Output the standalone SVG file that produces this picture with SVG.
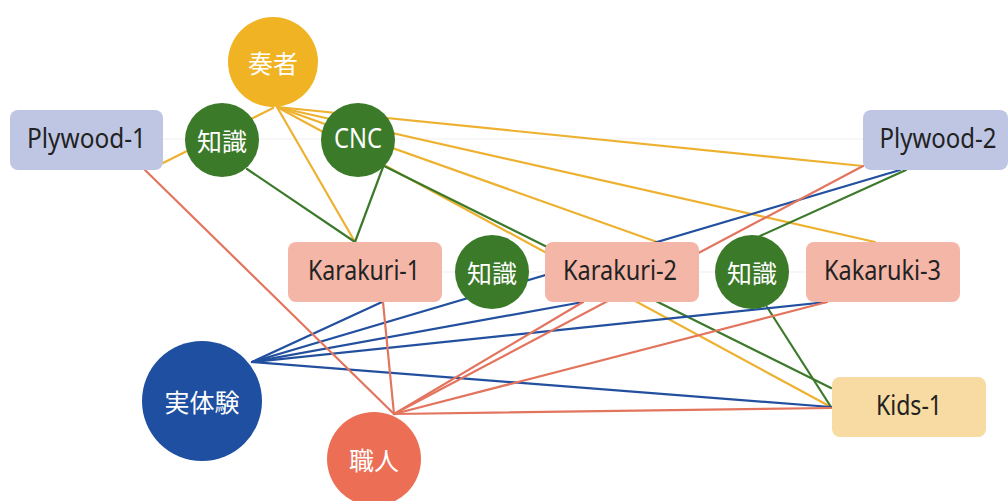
<svg xmlns="http://www.w3.org/2000/svg" width="1008" height="501" viewBox="0 0 1008 501">
  <style>
    .bg { fill: #ffffff; }
    .guide { stroke: #efefef; stroke-width: 1; fill: none; }
    .c { fill: none; stroke-width: 2.2; stroke-linecap: round; }
    .y { stroke: #eeb12f; }
    .g { stroke: #3b7a2b; }
    .b { stroke: #22509f; }
    .r { stroke: #e3745e; }
    .box { rx: 8; ry: 8; }
    .lav { fill: #bfc6e4; }
    .sal { fill: #f4b6a7; }
    .kid { fill: #f7dba3; }
    .grn { fill: #3a7a29; }
    .lbl { font-family: "Noto Sans", "Liberation Sans", sans-serif; font-size: 27.5px; fill: #222222; text-anchor: middle; }
    .jp { font-family: "Noto Sans CJK JP", "Noto Sans", sans-serif; font-size: 25px; fill: #ffffff; text-anchor: middle; dominant-baseline: central; }
    .wl { font-family: "Noto Sans", "Liberation Sans", sans-serif; font-size: 27.5px; fill: #ffffff; text-anchor: middle; }
  </style>

  <rect class="bg" x="0" y="0" width="1008" height="501"/>

  <!-- connectors -->
  <g id="connectors">
    <line class="guide" x1="163" y1="139" x2="863" y2="139"/>
    <line class="guide" x1="442" y1="272" x2="806" y2="272"/>

    <!-- 奏者 -->
    <line class="c y" x1="273" y1="108" x2="163" y2="163"/>
    <line class="c y" x1="277" y1="107" x2="355" y2="242"/>
    <line class="c y" x1="277" y1="107" x2="657" y2="242"/>
    <line class="c y" x1="277" y1="107" x2="875" y2="242"/>
    <line class="c y" x1="277" y1="107" x2="863" y2="166"/>
    <line class="c y" x1="277" y1="107" x2="831" y2="407"/>

    <!-- 知識 / CNC -->
    <line class="c g" x1="247" y1="169" x2="355" y2="242"/>
    <line class="c g" x1="383" y1="167" x2="355" y2="242"/>
    <line class="c g" x1="384" y1="166" x2="831" y2="388"/>
    <line class="c g" x1="767" y1="307" x2="831" y2="407"/>
    <line class="c g" x1="760" y1="236" x2="906" y2="170"/>

    <!-- 実体験 -->
    <line class="c b" x1="252" y1="362" x2="382" y2="302"/>
    <line class="c b" x1="252" y1="362" x2="900" y2="170"/>
    <line class="c b" x1="252" y1="362" x2="583" y2="302"/>
    <line class="c b" x1="252" y1="362" x2="827" y2="302"/>
    <line class="c b" x1="252" y1="362" x2="831" y2="407"/>

    <!-- 職人 -->
    <line class="c r" x1="394" y1="414" x2="145" y2="170"/>
    <line class="c r" x1="394" y1="414" x2="383" y2="302"/>
    <line class="c r" x1="394" y1="414" x2="583" y2="302"/>
    <line class="c r" x1="394" y1="414" x2="827" y2="302"/>
    <line class="c r" x1="394" y1="414" x2="863" y2="166"/>
    <line class="c r" x1="394" y1="414" x2="831" y2="408"/>
  </g>

  <!-- nodes -->
  <g id="soja">
    <circle cx="273" cy="62" r="45" fill="#f0b323"/>
    <text class="jp" x="273" y="62">奏者</text>
  </g>
  <g id="plywood-1">
    <rect class="box lav" x="10" y="110" width="153" height="60"/>
    <text class="lbl" x="86.5" y="148" textLength="119" lengthAdjust="spacingAndGlyphs">Plywood-1</text>
  </g>
  <g id="chishiki-1">
    <circle class="grn" cx="222" cy="140" r="37"/>
    <text class="jp" x="222" y="140">知識</text>
  </g>
  <g id="cnc">
    <circle class="grn" cx="358" cy="140" r="37"/>
    <text class="wl" x="358" y="148" textLength="48" lengthAdjust="spacingAndGlyphs">CNC</text>
  </g>
  <g id="plywood-2">
    <rect class="box lav" x="863" y="110" width="145" height="60"/>
    <text class="lbl" x="938" y="148" textLength="117" lengthAdjust="spacingAndGlyphs">Plywood-2</text>
  </g>
  <g id="karakuri-1">
    <rect class="box sal" x="288" y="242" width="154" height="60"/>
    <text class="lbl" x="364" y="280" textLength="112" lengthAdjust="spacingAndGlyphs">Karakuri-1</text>
  </g>
  <g id="chishiki-2">
    <circle class="grn" cx="492" cy="272" r="37"/>
    <text class="jp" x="492" y="272">知識</text>
  </g>
  <g id="karakuri-2">
    <rect class="box sal" x="545" y="242" width="154" height="60"/>
    <text class="lbl" x="620" y="280" textLength="114" lengthAdjust="spacingAndGlyphs">Karakuri-2</text>
  </g>
  <g id="chishiki-3">
    <circle class="grn" cx="752" cy="272" r="37"/>
    <text class="jp" x="752" y="272">知識</text>
  </g>
  <g id="kakaruki-3">
    <rect class="box sal" x="806" y="242" width="154" height="60"/>
    <text class="lbl" x="882.5" y="280" textLength="117" lengthAdjust="spacingAndGlyphs">Kakaruki-3</text>
  </g>
  <g id="jittaiken">
    <circle cx="202" cy="401" r="60" fill="#1e4fa1"/>
    <text class="jp" x="202" y="401">実体験</text>
  </g>
  <g id="shokunin">
    <circle cx="374" cy="459" r="47" fill="#ec6e55"/>
    <text class="jp" x="374" y="459">職人</text>
  </g>
  <g id="kids-1">
    <rect class="box kid" x="832" y="377" width="154" height="60"/>
    <text class="lbl" x="909" y="415" textLength="66" lengthAdjust="spacingAndGlyphs">Kids-1</text>
  </g>
</svg>
